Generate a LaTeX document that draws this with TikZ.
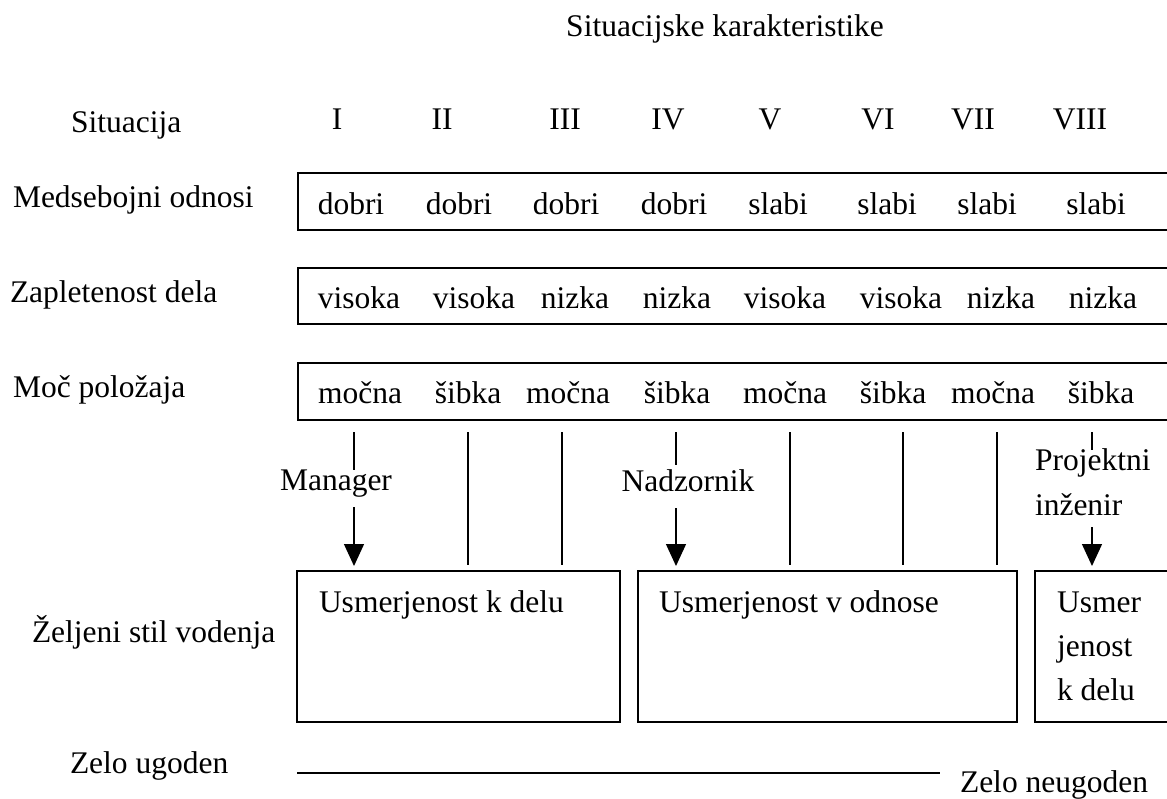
\documentclass[tikz,border=0pt]{standalone}
\usepackage{fontspec}
\setmainfont{Liberation Serif}
\usetikzlibrary{arrows.meta}
\begin{document}
\begin{tikzpicture}[x=1pt,y=-1pt,
  every node/.style={inner sep=0pt,outer sep=0pt,font=\fontsize{31.5}{38}\selectfont},
  lbl/.style={anchor=base west},
  word/.style={anchor=base},
  rowframe/.style={line width=1.6pt},
  framebox/.style={draw,line width=1.6pt},
  tick/.style={line width=1.3pt},
  pointer/.style={line width=1.3pt,-{Triangle[width=20pt,length=22pt]}}]
\useasboundingbox (0,0) rectangle (1167,798);

% heading and situation numbers
\node[word] (title) at (725,36) {Situacijske karakteristike};
\node[lbl] (sit) at (71,132) {Situacija};
\foreach \x/\t [count=\i] in {337/I,442/II,565/III,668/IV,770/V,878/VI,973/VII,1080/VIII}
  \node[word] (num\i) at (\x,129) {\t};

% row captions
\node[lbl] (rel) at (13,207) {Medsebojni odnosi};
\node[lbl] (cpx) at (10,302) {Zapletenost dela};
\node[lbl] (pow) at (13,397) {Moč položaja};

% open-ended row frames
\foreach \top/\bot in {173/230,268/324,363/420}
  \draw[rowframe] (1167,\top) -- (298,\top) -- (298,\bot) -- (1167,\bot);

% row entries
\foreach \x/\t [count=\i] in {351/dobri,459/dobri,566/dobri,674/dobri,778/slabi,887/slabi,987/slabi,1096/slabi}
  \node[word] (r1\i) at (\x,214) {\t};
\foreach \x/\t [count=\i] in {359/visoka,474/visoka,575/nizka,677/nizka,785/visoka,901/visoka,1001/nizka,1103/nizka}
  \node[word] (r2\i) at (\x,308) {\t};
\foreach \x/\t [count=\i] in {360/močna,468/šibka,568/močna,677/šibka,785/močna,893/šibka,993/močna,1101/šibka}
  \node[word] (r3\i) at (\x,403) {\t};

% plain separators
\foreach \x [count=\i] in {468,562,790,903,997}{
  \coordinate (st\i) at (\x,432);
  \coordinate (sb\i) at (\x,565);
  \draw[tick] (st\i) -- (sb\i);
}

% leadership style boxes
\draw[framebox] (297,571) rectangle (620,722);
\node[lbl] (task) at (319,612) {Usmerjenost k delu};
\draw[framebox] (638,571) rectangle (1017,722);
\node[lbl] (rels) at (659,612) {Usmerjenost v odnose};
\draw[rowframe] (1167,571) -- (1035,571) -- (1035,722) -- (1167,722);
\node[lbl] (task2a) at (1057,612) {Usmer};
\node[lbl] (task2b) at (1057,656) {jenost};
\node[lbl] (task2c) at (1057,700) {k delu};
\node[lbl] (style) at (32,642) {Željeni stil vodenja};

% labelled arrows
\node[word] (mgr) at (336,490) {Manager};
\coordinate (m1) at (354,432); \coordinate (m2) at (354,470);
\coordinate (m3) at (354,507); \coordinate (m4) at (354,566);
\draw[tick] (m1) -- (m2);
\draw[pointer] (m3) -- (m4);

\node[word] (sup) at (688,491) {Nadzornik};
\coordinate (n1) at (676,432); \coordinate (n2) at (676,465);
\coordinate (n3) at (676,508); \coordinate (n4) at (676,566);
\draw[tick] (n1) -- (n2);
\draw[pointer] (n3) -- (n4);

\node[lbl] (eng1) at (1035,470) {Projektni};
\node[lbl] (eng2) at (1035,515) {inženir};
\coordinate (p1) at (1092,432); \coordinate (p2) at (1092,450);
\coordinate (p3) at (1092,527); \coordinate (p4) at (1092,566);
\draw[tick] (p1) -- (p2);
\draw[pointer] (p3) -- (p4);

% favourability scale
\node[lbl] (fav) at (70,773) {Zelo ugoden};
\coordinate (s1) at (297,773); \coordinate (s2) at (940,773);
\draw[tick] (s1) -- (s2);
\node[lbl] (unfav) at (960,792) {Zelo neugoden};
\end{tikzpicture}
\end{document}
